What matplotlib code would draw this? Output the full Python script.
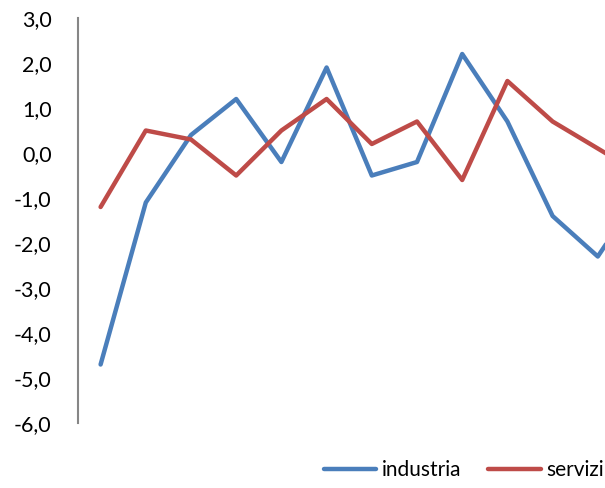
import numpy as np
import matplotlib.pyplot as plt
from matplotlib.ticker import FuncFormatter

plt.rcParams['font.family'] = ['Lato', 'DejaVu Sans']

# values (last point lies beyond the cropped edge)
industria = [-4.7, -1.1, 0.4, 1.2, -0.2, 1.9, -0.5, -0.2, 2.2, 0.7, -1.4, -2.3, -0.8]
servizi = [-1.2, 0.5, 0.3, -0.5, 0.5, 1.2, 0.2, 0.7, -0.6, 1.6, 0.7, 0.1, -0.5]
yticks = [3, 2, 1, 0, -1, -2, -3, -4, -5, -6]

x = np.arange(len(industria))

fig = plt.figure(figsize=(6.05, 4.88), dpi=100)
ax = fig.add_axes([78 / 605, 65 / 488, 527 / 605, 405 / 488])

l1, = ax.plot(x, industria, color='#4A7EBB', lw=3.2, solid_joinstyle='round',
              solid_capstyle='round', label='industria')
l2, = ax.plot(x, servizi, color='#BE4B48', lw=3.2, solid_joinstyle='round',
              solid_capstyle='round', label='servizi')

ax.set_xlim(-0.5, -0.5 + 527 / 45.2)
ax.set_ylim(-6, 3)
ax.set_yticks(yticks)
ax.yaxis.set_major_formatter(FuncFormatter(lambda v, p: f'{v:.1f}'.replace('.', ',')))
ax.tick_params(axis='y', length=0, pad=19, labelsize=15.5, labelcolor='black')
ax.set_xticks([])
for s in ['top', 'right', 'bottom']:
    ax.spines[s].set_visible(False)
ax.spines['left'].set_color('#868686')
ax.spines['left'].set_linewidth(1.5)

fig.legend(handles=[l1, l2], loc='center right', bbox_to_anchor=(1.03, 18 / 488),
           ncol=2, frameon=False, fontsize=15, handlelength=2.5,
           handletextpad=0.3, columnspacing=1.3)

fig.savefig('out.png', dpi=100)
